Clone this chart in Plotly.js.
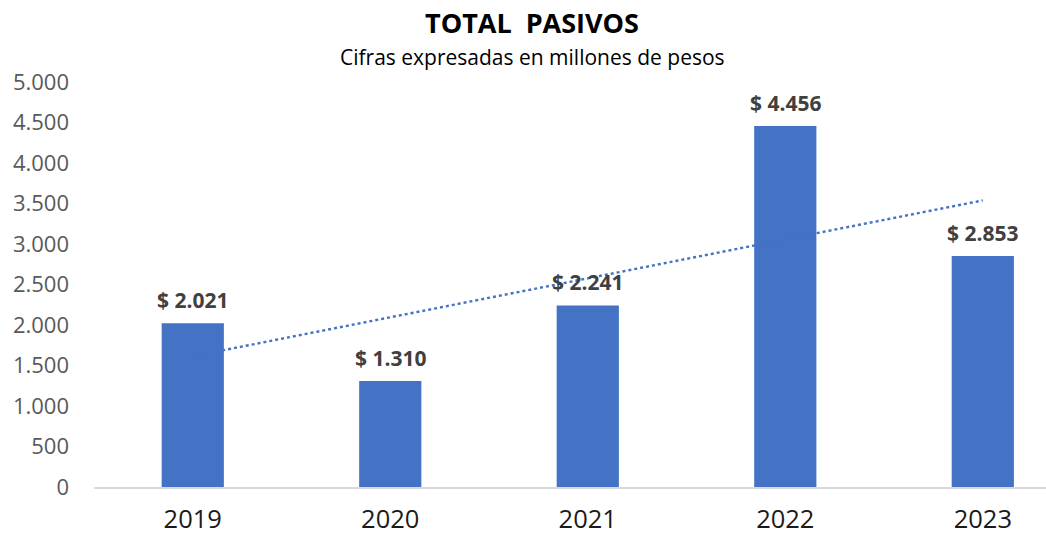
<!DOCTYPE html>
<html>
<head>
<meta charset="utf-8">
<script src="https://cdn.plot.ly/plotly-3.0.1.min.js"></script>
<style>html,body{margin:0;padding:0;background:#fff;}#chart{width:1046px;height:534px;}</style>
</head>
<body>
<div id="chart"></div>
<script>
// Data
var years = ['2019', '2020', '2021', '2022', '2023'];
var pasivos = [2021, 1310, 2241, 4456, 2853];
var yTicks = [0, 500, 1000, 1500, 2000, 2500, 3000, 3500, 4000, 4500, 5000];

function fmtMiles(v) {
  return String(Math.round(v)).replace(/\B(?=(\d{3})+(?!\d))/g, '.');
}

// Linear trendline (least squares) computed from the series, as a spreadsheet does
var n = pasivos.length, sx = 0, sy = 0, sxy = 0, sxx = 0;
for (var i = 0; i < n; i++) { sx += i; sy += pasivos[i]; sxy += i * pasivos[i]; sxx += i * i; }
var slope = (n * sxy - sx * sy) / (n * sxx - sx * sx);
var intercept = (sy - slope * sx) / n;
var trendY = years.map(function (_, i) { return intercept + slope * i; });

var BLUE = '#4472C4';
var W = 1046, H = 534, ML = 94, MR = 0, MT = 82, MB = 47;

var trend = {
  type: 'scatter', mode: 'lines', x: years, y: trendY,
  line: { color: BLUE, width: 2.4, dash: 'dot' },
  hoverinfo: 'skip', showlegend: false
};
var bars = {
  type: 'bar', x: years, y: pasivos,
  marker: { color: BLUE, line: { width: 0 } },
  showlegend: false
};

var annotations = years.map(function (yr, i) {
  return {
    x: i, y: pasivos[i], xref: 'x', yref: 'y',
    text: '<b>$ ' + fmtMiles(pasivos[i]) + '</b>',
    showarrow: false, xanchor: 'center', yanchor: 'bottom', yshift: 7,
    font: { family: 'Open Sans, sans-serif', size: 21, color: '#404040' }
  };
});
annotations.push({
  xref: 'paper', yref: 'paper',
  x: (532 - ML) / (W - ML - MR), y: 1 + (MT - 57) / (H - MT - MB),
  xanchor: 'center', yanchor: 'middle', showarrow: false,
  text: 'Cifras expresadas en millones de pesos',
  font: { family: 'Open Sans, sans-serif', size: 21, color: '#000000' }
});

var layout = {
  width: W, height: H,
  margin: { l: ML, r: MR, t: MT, b: MB },
  paper_bgcolor: '#ffffff', plot_bgcolor: '#ffffff',
  separators: ',.',
  title: {
    text: '<b>TOTAL\u00a0 PASIVOS</b>',
    x: 532 / W, xanchor: 'center', xref: 'container',
    y: 1 - 24 / H, yanchor: 'middle', yref: 'container',
    font: { family: 'Open Sans, sans-serif', size: 27, color: '#000000' }
  },
  bargap: 0.685,
  xaxis: {
    type: 'category',
    range: [-0.5, 4.32],
    showgrid: false, zeroline: false,
    showline: true, linecolor: '#d9d9d9', linewidth: 1.5,
    ticks: '', ticklabelstandoff: 9,
    tickfont: { family: 'Open Sans, sans-serif', size: 25.5, color: '#1a1a1a' },
    fixedrange: true
  },
  yaxis: {
    range: [0, 5000],
    tickvals: yTicks,
    tickformat: ',d',
    showgrid: false, zeroline: false, showline: false,
    ticks: '', ticklabelstandoff: 24,
    tickfont: { family: 'Open Sans, sans-serif', size: 22, color: '#595959' },
    fixedrange: true
  },
  annotations: annotations
};

Plotly.newPlot('chart', [trend, bars], layout, { displayModeBar: false, staticPlot: true });
</script>
</body>
</html>
